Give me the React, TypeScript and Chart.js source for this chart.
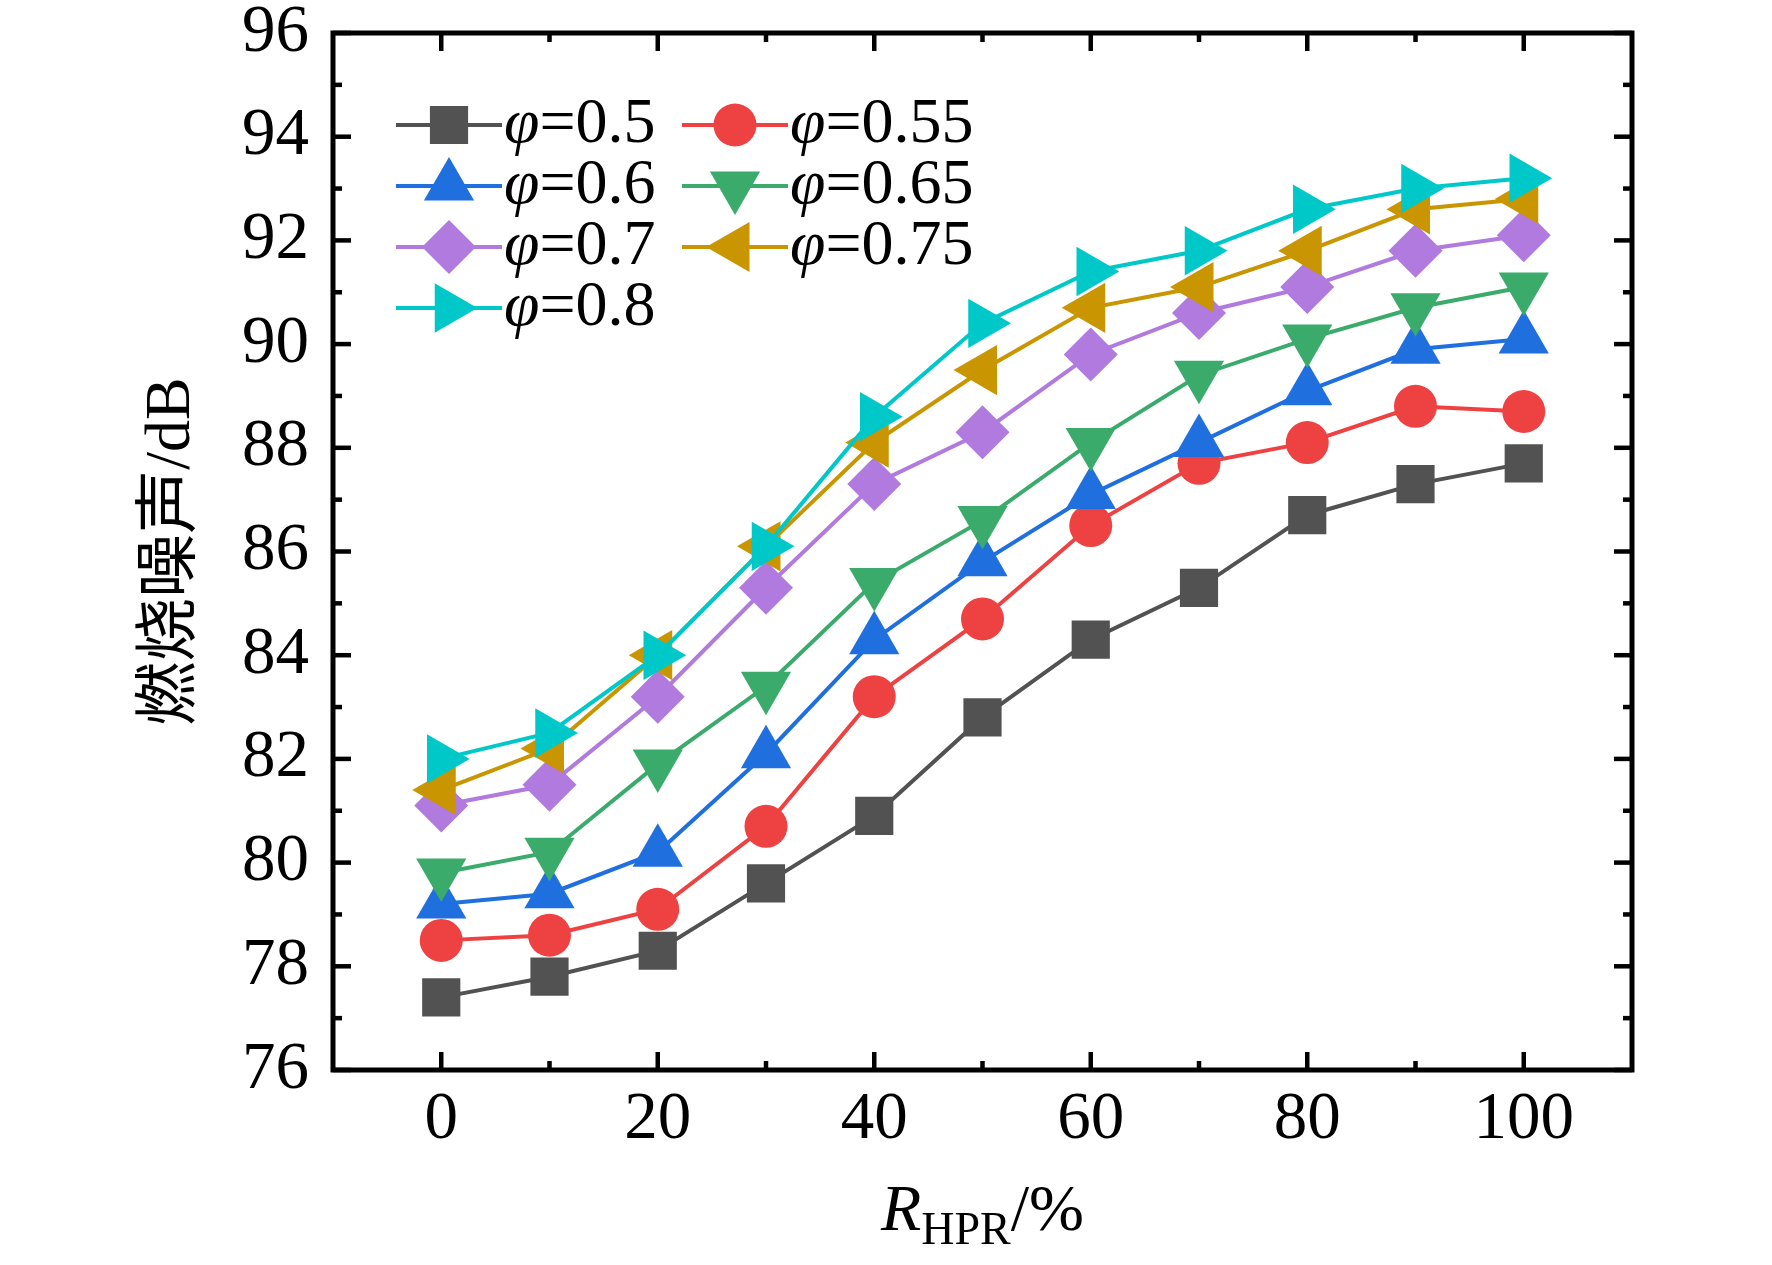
import { useEffect, useRef } from "react"
import { Chart, registerables } from "chart.js"
import { drawPoint } from "chart.js/helpers"

Chart.register(...registerables)

// R_HPR (%) on the x axis
const ratios = [0, 10, 20, 30, 40, 50, 60, 70, 80, 90, 100]

// combustion noise (dB) for each equivalence ratio
const phi050 = [77.4, 77.8, 78.3, 79.6, 80.9, 82.8, 84.3, 85.3, 86.7, 87.3, 87.7]
const phi055 = [78.5, 78.6, 79.1, 80.7, 83.2, 84.7, 86.5, 87.7, 88.1, 88.8, 88.7]
const phi060 = [79.2, 79.4, 80.2, 82.1, 84.3, 85.8, 87.1, 88.1, 89.1, 89.9, 90.1]
const phi065 = [79.8, 80.2, 81.9, 83.4, 85.4, 86.6, 88.1, 89.4, 90.1, 90.7, 91.1]
const phi070 = [81.1, 81.5, 83.2, 85.3, 87.3, 88.3, 89.8, 90.6, 91.1, 91.8, 92.1]
const phi075 = [81.4, 82.2, 84.0, 86.1, 88.1, 89.5, 90.7, 91.1, 91.8, 92.6, 92.8]
const phi080 = [82.0, 82.5, 84.0, 86.1, 88.6, 90.4, 91.4, 91.8, 92.6, 93.0, 93.2]

const seriesLabels = ["0.5", "0.55", "0.6", "0.65", "0.7", "0.75", "0.8"]
const seriesValues = [phi050, phi055, phi060, phi065, phi070, phi075, phi080]

// tick labels
const xTicks = [0, 20, 40, 60, 80, 100]
const xMinorTicks = [10, 30, 50, 70, 90]
const yTicks = [76, 78, 80, 82, 84, 86, 88, 90, 92, 94, 96]
const yMinorTicks = [77, 79, 81, 83, 85, 87, 89, 91, 93, 95]

const SERIF = "'Liberation Serif', 'Times New Roman', serif"

// marker look per series
const markers = [
  { color: "#525252", pointStyle: "rect", rotation: 0, radius: 27 },
  { color: "#ee4242", pointStyle: "circle", rotation: 0, radius: 21.5 },
  { color: "#1f6fde", pointStyle: "triangle", rotation: 0, radius: 29 },
  { color: "#3aab6b", pointStyle: "triangle", rotation: 180, radius: 29 },
  { color: "#b07ade", pointStyle: "rectRot", rotation: 0, radius: 27 },
  { color: "#c99500", pointStyle: "triangle", rotation: 270, radius: 29 },
  { color: "#00c8c9", pointStyle: "triangle", rotation: 90, radius: 28.5 },
]

const W = 1772
const H = 1265

const decorPlugin = {
  id: "decor",
  afterDraw(chart: any) {
    const { ctx, chartArea: a, scales } = chart
    const xs = scales.x
    const ys = scales.y
    ctx.save()
    ctx.strokeStyle = "#000"
    ctx.lineCap = "butt"

    const tick = (x1: number, y1: number, x2: number, y2: number) => {
      ctx.beginPath()
      ctx.moveTo(x1, y1)
      ctx.lineTo(x2, y2)
      ctx.stroke()
    }
    const MAJ = 18
    const MIN = 9
    ctx.lineWidth = 4.5
    xTicks.forEach((v) => {
      const px = xs.getPixelForValue(v)
      tick(px, a.bottom, px, a.bottom - MAJ)
      tick(px, a.top, px, a.top + MAJ)
    })
    xMinorTicks.forEach((v) => {
      const px = xs.getPixelForValue(v)
      tick(px, a.bottom, px, a.bottom - MIN)
      tick(px, a.top, px, a.top + MIN)
    })
    yTicks.forEach((v) => {
      const py = ys.getPixelForValue(v)
      tick(a.left, py, a.left + MAJ, py)
      tick(a.right, py, a.right - MAJ, py)
    })
    yMinorTicks.forEach((v) => {
      const py = ys.getPixelForValue(v)
      tick(a.left, py, a.left + MIN, py)
      tick(a.right, py, a.right - MIN, py)
    })

    // frame
    ctx.lineWidth = 5
    ctx.strokeRect(a.left, a.top, a.right - a.left, a.bottom - a.top)

    // legend, two columns
    const colLine = [396, 682]
    const rowY = [125, 186, 247, 308]
    ctx.textBaseline = "middle"
    ctx.textAlign = "left"
    chart.data.datasets.forEach((ds: any, i: number) => {
      const m = markers[i]
      const col = i % 2
      const row = Math.floor(i / 2)
      const x0 = colLine[col]
      const y0 = rowY[row]
      ctx.strokeStyle = m.color
      ctx.lineWidth = 4
      tick(x0, y0, x0 + 106, y0)
      ctx.fillStyle = m.color
      drawPoint(ctx, { pointStyle: m.pointStyle, rotation: m.rotation, radius: m.radius, borderWidth: 0 } as any, x0 + 53, y0)
      ctx.fillStyle = "#000"
      let tx = x0 + 108
      ctx.font = `italic 64px ${SERIF}`
      ctx.fillText("φ", tx, y0)
      tx += ctx.measureText("φ").width
      ctx.font = `64px ${SERIF}`
      ctx.fillText("=" + seriesLabels[i], tx, y0)
    })

    // y title
    ctx.save()
    ctx.translate(172, (a.top + a.bottom) / 2)
    ctx.rotate(-Math.PI / 2)
    ctx.textAlign = "center"
    ctx.textBaseline = "middle"
    ctx.font = `64px 'Liberation Serif', 'Noto Sans CJK SC', serif`
    ctx.fillText("燃烧噪声/dB", 0, 0)
    ctx.restore()

    // x title: R_HPR/%
    const base = 1230
    ctx.textBaseline = "alphabetic"
    ctx.font = `italic 66px ${SERIF}`
    const wR = ctx.measureText("R").width
    ctx.font = `46px ${SERIF}`
    const wSub = ctx.measureText("HPR").width
    ctx.font = `66px ${SERIF}`
    const wRest = ctx.measureText("/%").width
    let tx = (a.left + a.right) / 2 - (wR + wSub + wRest) / 2
    ctx.font = `italic 66px ${SERIF}`
    ctx.fillText("R", tx, base)
    tx += wR
    ctx.font = `46px ${SERIF}`
    ctx.fillText("HPR", tx, base + 14)
    tx += wSub
    ctx.font = `66px ${SERIF}`
    ctx.fillText("/%", tx, base)

    ctx.restore()
  },
}

export default function App() {
  const canvasRef = useRef<HTMLCanvasElement>(null)
  const chartRef = useRef<Chart | null>(null)

  useEffect(() => {
    if (!canvasRef.current) return
    if (chartRef.current) chartRef.current.destroy()

    const datasets = seriesValues.map((vals, i) => ({
      label: "φ=" + seriesLabels[i],
      data: ratios.map((r, j) => ({ x: r, y: vals[j] })),
      borderColor: markers[i].color,
      backgroundColor: markers[i].color,
      borderWidth: 4,
      pointStyle: markers[i].pointStyle,
      rotation: markers[i].rotation,
      pointRadius: markers[i].radius,
      pointHoverRadius: markers[i].radius,
      pointBorderWidth: 0,
      pointBackgroundColor: markers[i].color,
      tension: 0,
      order: seriesValues.length - i,
    }))

    chartRef.current = new Chart(canvasRef.current, {
      type: "line",
      data: { datasets } as any,
      options: {
        animation: false,
        responsive: true,
        maintainAspectRatio: false,
        devicePixelRatio: 1,
        layout: { padding: { left: 0, top: 33, right: W - 1632, bottom: 0 } },
        plugins: {
          legend: { display: false },
          title: { display: false },
          tooltip: { enabled: false },
        },
        scales: {
          x: {
            type: "linear",
            min: -10,
            max: 110,
            grid: { display: false, drawTicks: false },
            border: { display: false },
            afterBuildTicks: (scale: any) => {
              scale.ticks = xTicks.map((v) => ({ value: v }))
            },
            afterFit: (scale: any) => {
              scale.height = H - 1070
              scale.paddingLeft = 0
              scale.paddingRight = 0
            },
            ticks: {
              color: "#000",
              padding: 10,
              maxRotation: 0,
              autoSkip: false,
              font: { family: SERIF, size: 67, lineHeight: 1.2 },
            },
          },
          y: {
            type: "linear",
            min: 76,
            max: 96,
            grid: { display: false, drawTicks: false },
            border: { display: false },
            afterBuildTicks: (scale: any) => {
              scale.ticks = yTicks.map((v) => ({ value: v }))
            },
            afterFit: (scale: any) => {
              scale.width = 333
              scale.paddingTop = 0
              scale.paddingBottom = 0
            },
            ticks: {
              color: "#000",
              padding: 24,
              autoSkip: false,
              font: { family: SERIF, size: 67, lineHeight: 1.2 },
            },
          },
        },
      } as any,
      plugins: [decorPlugin],
    })

    return () => {
      if (chartRef.current) {
        chartRef.current.destroy()
        chartRef.current = null
      }
    }
  }, [])

  return (
    <div style={{ position: "fixed", left: 0, top: 0, width: W, height: H, background: "#fff" }}>
      <canvas ref={canvasRef} />
    </div>
  )
}
